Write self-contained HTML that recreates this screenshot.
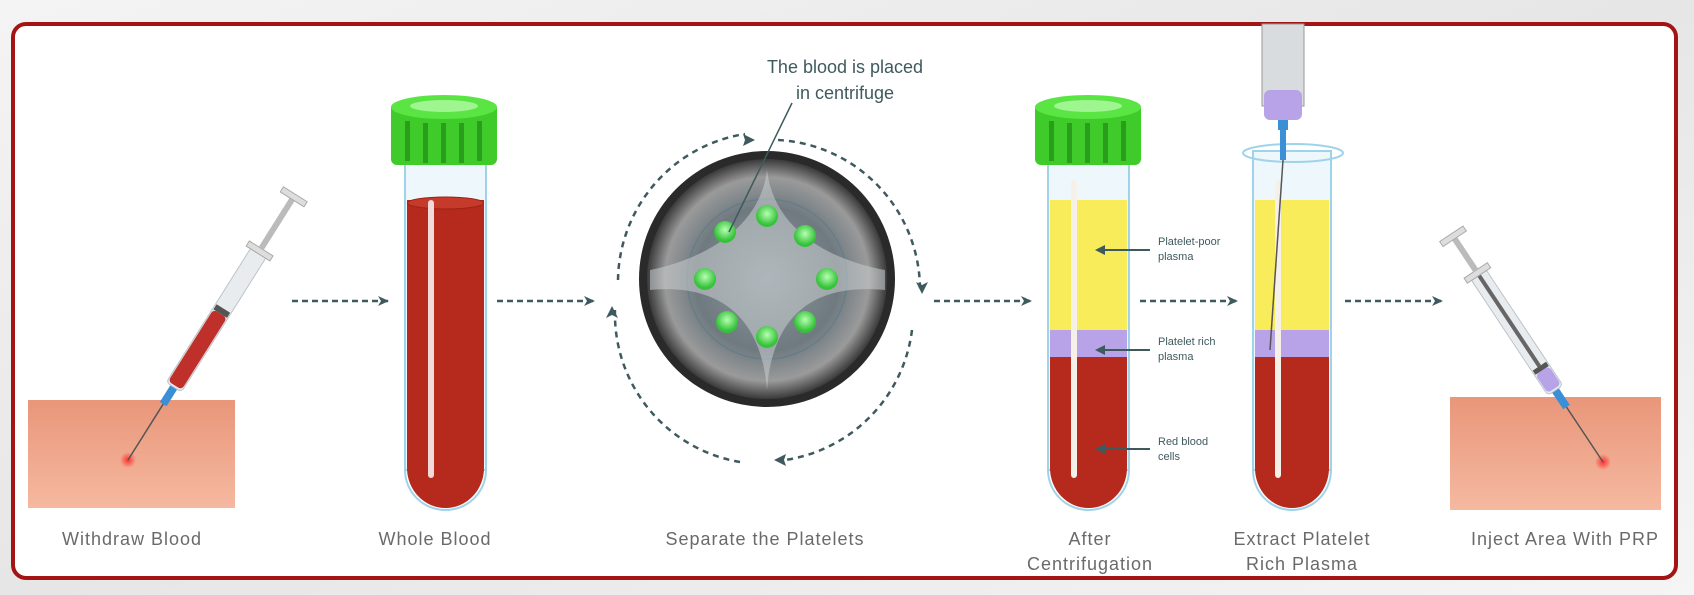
<!DOCTYPE html>
<html><head><meta charset="utf-8"><style>
html,body{margin:0;padding:0;background:#f0f0f0;}
svg{display:block;}
text{font-family:"Liberation Sans",sans-serif;}
</style></head><body>
<svg width="1694" height="595" viewBox="0 0 1694 595" xmlns="http://www.w3.org/2000/svg">
<defs>
<linearGradient id="bg" x1="0" y1="0" x2="1" y2="1"><stop offset="0" stop-color="#f4f4f4"/><stop offset="0.5" stop-color="#e6e6e6"/><stop offset="1" stop-color="#f5f5f5"/></linearGradient>
<linearGradient id="skin" x1="0" y1="0" x2="0" y2="1"><stop offset="0" stop-color="#e9967a"/><stop offset="1" stop-color="#f5b9a0"/></linearGradient>
<radialGradient id="disc" cx="0.5" cy="0.5" r="0.5"><stop offset="0" stop-color="#8d9aa0"/><stop offset="0.6" stop-color="#6f7a80"/><stop offset="0.85" stop-color="#9a9a9a"/><stop offset="1" stop-color="#3a3a3a"/></radialGradient>
<radialGradient id="dot" cx="0.5" cy="0.4" r="0.5"><stop offset="0" stop-color="#b6ffb0"/><stop offset="1" stop-color="#35c23a"/></radialGradient>
<radialGradient id="prick"><stop offset="0" stop-color="#ff3030"/><stop offset="1" stop-color="#ff3030" stop-opacity="0"/></radialGradient>
<marker id="ah" markerWidth="12" markerHeight="10" refX="10" refY="5" orient="auto" markerUnits="userSpaceOnUse"><path d="M0,0 L11,5 L0,10 L3,5Z" fill="#3f5a5e"/></marker>
<g id="cap">
<rect x="0" y="8" width="106" height="62" rx="6" fill="#3fcc2a"/>
<ellipse cx="53" cy="12" rx="53" ry="12" fill="#5be545"/>
<ellipse cx="53" cy="11" rx="34" ry="6" fill="#9ff58f"/>
<g fill="#2a9e1c"><rect x="14" y="26" width="5" height="40"/><rect x="32" y="28" width="5" height="40"/><rect x="50" y="28" width="5" height="40"/><rect x="68" y="28" width="5" height="40"/><rect x="86" y="26" width="5" height="40"/></g>
</g>
</defs>
<rect width="1694" height="595" fill="url(#bg)"/>
<rect x="13" y="24" width="1663" height="554" rx="13" fill="#fff" stroke="#a31515" stroke-width="4"/>

<rect x="28" y="400" width="207" height="108" fill="url(#skin)"/>
<circle cx="128" cy="460" r="8" fill="url(#prick)"/>
<g transform="translate(128,460) rotate(-57.8)">
<line x1="0" y1="0" x2="68" y2="0" stroke="#555" stroke-width="1.5"/>
<rect x="66" y="-4" width="20" height="8" fill="#3b8fd6"/>
<rect x="86" y="-9" width="160" height="18" rx="4" fill="#e8ecee" stroke="#bcc4c8"/>
<rect x="88" y="-8" width="85" height="16" rx="4" fill="#c0302a"/>
<rect x="173" y="-8" width="6" height="16" fill="#555"/>
<rect x="244" y="-14" width="6" height="28" fill="#ddd" stroke="#aaa"/>
<rect x="250" y="-3" width="60" height="6" fill="#bbb"/>
<rect x="308" y="-14" width="6" height="28" fill="#ddd" stroke="#aaa"/>
</g>

<g stroke="#3f5a5e" stroke-width="2.5" stroke-dasharray="6,4" marker-end="url(#ah)" fill="none">
<line x1="292" y1="301" x2="388" y2="301"/>
<line x1="497" y1="301" x2="594" y2="301"/>
<line x1="934" y1="301" x2="1031" y2="301"/>
<line x1="1140" y1="301" x2="1237" y2="301"/>
<line x1="1345" y1="301" x2="1442" y2="301"/>
</g>

<rect x="405" y="140" width="81" height="330" fill="#eef8fc" stroke="#9fd3ea" stroke-width="2"/>
<path d="M407,200 H484 V468 A38.5,40 0 0 1 407,468 Z" fill="#b52a1c"/>
<ellipse cx="445.5" cy="203" rx="38" ry="6" fill="#c63a2c" stroke="#a12015"/>
<path d="M405,470 A40.5,40 0 0 0 486,470" fill="none" stroke="#9fd3ea" stroke-width="2"/>
<rect x="428" y="200" width="6" height="278" rx="3" fill="#f2dada"/>
<use href="#cap" x="391" y="95"/>

<g fill="none" stroke="#3f5a5e" stroke-width="2.5" stroke-dasharray="6,5">
<path d="M618,280 A150,150 0 0 1 745,134"/>
<path d="M778,140 A150,150 0 0 1 920,290"/>
<path d="M912,330 A150,150 0 0 1 785,460"/>
<path d="M740,462 A150,150 0 0 1 615,310"/>
</g>
<g fill="#3f5a5e"><path d="M755,140 l-12,-6 l2,6 l-2,6z"/><path d="M922,294 l-6,-12 l6,3 l6,-3z"/><path d="M774,460 l12,-6 l-2,6 l2,6z"/><path d="M612,306 l-6,12 l6,-3 l6,3z"/></g>
<circle cx="767" cy="279" r="128" fill="#2a2a2a"/>
<circle cx="767" cy="279" r="120" fill="url(#disc)"/>
<circle cx="767" cy="279" r="80" fill="none" stroke="#5a7a88" stroke-width="1.5" opacity="0.6"/>
<path d="M767,170 C760,230 700,260 650,270 L650,290 C700,285 760,300 767,390 C774,300 830,285 885,290 L885,270 C830,260 774,230 767,170Z" fill="#c8ced0" opacity="0.55"/>
<g fill="url(#dot)">
<circle cx="725" cy="232" r="11"/><circle cx="767" cy="216" r="11"/><circle cx="805" cy="236" r="11"/>
<circle cx="705" cy="279" r="11"/><circle cx="827" cy="279" r="11"/>
<circle cx="727" cy="322" r="11"/><circle cx="767" cy="337" r="11"/><circle cx="805" cy="322" r="11"/>
</g>
<line x1="792" y1="103" x2="729" y2="232" stroke="#3f5a5e" stroke-width="1.5"/>
<text x="845" y="73" font-size="18" fill="#3f5a5e" text-anchor="middle">The blood is placed</text>
<text x="845" y="99" font-size="18" fill="#3f5a5e" text-anchor="middle">in centrifuge</text>

<rect x="1048" y="140" width="81" height="330" fill="#eef8fc" stroke="#9fd3ea" stroke-width="2"/>
<rect x="1050" y="200" width="77" height="130" fill="#f8ec5a"/>
<rect x="1050" y="330" width="77" height="27" fill="#b8a3e8"/>
<path d="M1050,357 H1127 V468 A38.5,40 0 0 1 1050,468 Z" fill="#b52a1c"/>
<path d="M1048,470 A40.5,40 0 0 0 1129,470" fill="none" stroke="#9fd3ea" stroke-width="2"/>
<rect x="1071" y="180" width="6" height="298" rx="3" fill="#f5f0e8"/>
<use href="#cap" x="1035" y="95"/>
<g stroke="#3f5a5e" stroke-width="2"><line x1="1150" y1="250" x2="1098" y2="250"/><line x1="1150" y1="350" x2="1098" y2="350"/><line x1="1150" y1="449" x2="1098" y2="449"/></g>
<g fill="#3f5a5e"><path d="M1095,250 l10,-5 v10z"/><path d="M1095,350 l10,-5 v10z"/><path d="M1095,449 l10,-5 v10z"/></g>
<g font-size="11" fill="#3f5a5e">
<text x="1158" y="245">Platelet-poor</text><text x="1158" y="260">plasma</text>
<text x="1158" y="345">Platelet rich</text><text x="1158" y="360">plasma</text>
<text x="1158" y="445">Red blood</text><text x="1158" y="460">cells</text>
</g>

<rect x="1253" y="151" width="78" height="319" fill="#eef8fc" stroke="#9fd3ea" stroke-width="2"/>
<ellipse cx="1293" cy="153" rx="50" ry="9" fill="none" stroke="#9fd3ea" stroke-width="2"/>
<rect x="1255" y="200" width="74" height="130" fill="#f8ec5a"/>
<rect x="1255" y="330" width="74" height="27" fill="#b8a3e8"/>
<path d="M1255,357 H1329 V468 A37,40 0 0 1 1255,468 Z" fill="#b52a1c"/>
<path d="M1253,470 A39,40 0 0 0 1331,470" fill="none" stroke="#9fd3ea" stroke-width="2"/>
<rect x="1275" y="180" width="6" height="298" rx="3" fill="#f5f0e8"/>
<rect x="1262" y="24" width="42" height="82" fill="#d8dcde" stroke="#999"/>
<rect x="1264" y="90" width="38" height="30" rx="6" fill="#b8a3e8"/>
<rect x="1278" y="120" width="10" height="10" fill="#3b8fd6"/>
<rect x="1280" y="130" width="6" height="30" fill="#3b8fd6"/>
<line x1="1283" y1="160" x2="1270" y2="350" stroke="#555" stroke-width="1.5"/>

<rect x="1450" y="397" width="211" height="113" fill="url(#skin)"/>
<circle cx="1603" cy="462" r="8" fill="url(#prick)"/>
<g transform="translate(1603,462) rotate(-123.6)">
<line x1="0" y1="0" x2="68" y2="0" stroke="#555" stroke-width="1.5"/>
<rect x="66" y="-4" width="20" height="8" fill="#3b8fd6"/>
<rect x="86" y="-9" width="140" height="18" rx="4" fill="#e8ecee" stroke="#bcc4c8"/>
<rect x="88" y="-8" width="22" height="16" rx="4" fill="#b8a3e8"/>
<rect x="110" y="-8" width="5" height="16" fill="#555"/>
<rect x="115" y="-2" width="110" height="4" fill="#666"/>
<rect x="224" y="-14" width="6" height="28" fill="#ddd" stroke="#aaa"/>
<rect x="230" y="-3" width="40" height="6" fill="#bbb"/>
<rect x="268" y="-14" width="6" height="28" fill="#ddd" stroke="#aaa"/>
</g>

<g font-size="18" fill="#6a6a6a" text-anchor="middle" letter-spacing="1">
<text x="132" y="545">Withdraw Blood</text>
<text x="435" y="545">Whole Blood</text>
<text x="765" y="545">Separate the Platelets</text>
<text x="1090" y="545">After</text>
<text x="1090" y="570">Centrifugation</text>
<text x="1302" y="545">Extract Platelet</text>
<text x="1302" y="570">Rich Plasma</text>
<text x="1565" y="545">Inject Area With PRP</text>
</g>
</svg>
</body></html>
